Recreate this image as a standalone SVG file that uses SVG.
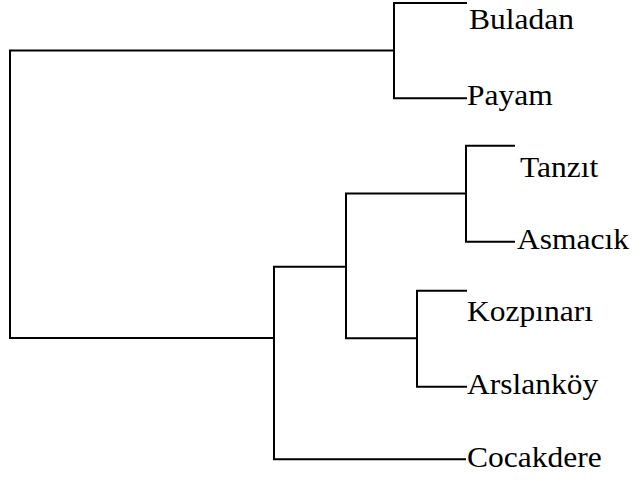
<svg xmlns="http://www.w3.org/2000/svg" width="632" height="483" viewBox="0 0 632 483">
<style>
.ln{fill:none;stroke:#000;stroke-width:2;stroke-linecap:square;stroke-linejoin:miter}
.lb{font-family:'Liberation Serif','Times New Roman',serif;font-size:30px;fill:#000}
</style>
<rect width="632" height="483" fill="#fff"/>
<g id="connectors">
<path class="ln" d="M394,50.5 H10 V338 H274"/>
<path class="ln" d="M466,3 H394 V98.3 H466"/>
<path class="ln" d="M346,266.7 H274 V459.3 H465"/>
<path class="ln" d="M514,145.7 H466 V241.7 H514"/>
<path class="ln" d="M466,193.5 H346 V338.3 H417"/>
<path class="ln" d="M466,290.7 H417 V386.7 H466"/>
</g>
<g id="Buladan"><text class="lb" transform="translate(469,28.5) scale(1.05,1)">Buladan</text></g>
<g id="Payam"><text class="lb" transform="translate(467,105) scale(1.05,1)">Payam</text></g>
<g id="Tanzit"><text class="lb" transform="translate(520,177) scale(1.05,1)">Tanzıt</text></g>
<g id="Asmacik"><text class="lb" transform="translate(517,249) scale(1.05,1)">Asmacık</text></g>
<g id="Kozpinari"><text class="lb" transform="translate(467,321) scale(1.05,1)">Kozpınarı</text></g>
<g id="Arslankoy"><text class="lb" transform="translate(467,394) scale(1.05,1)">Arslanköy</text></g>
<g id="Cocakdere"><text class="lb" transform="translate(467,466.5) scale(1.05,1)">Cocakdere</text></g>
</svg>
